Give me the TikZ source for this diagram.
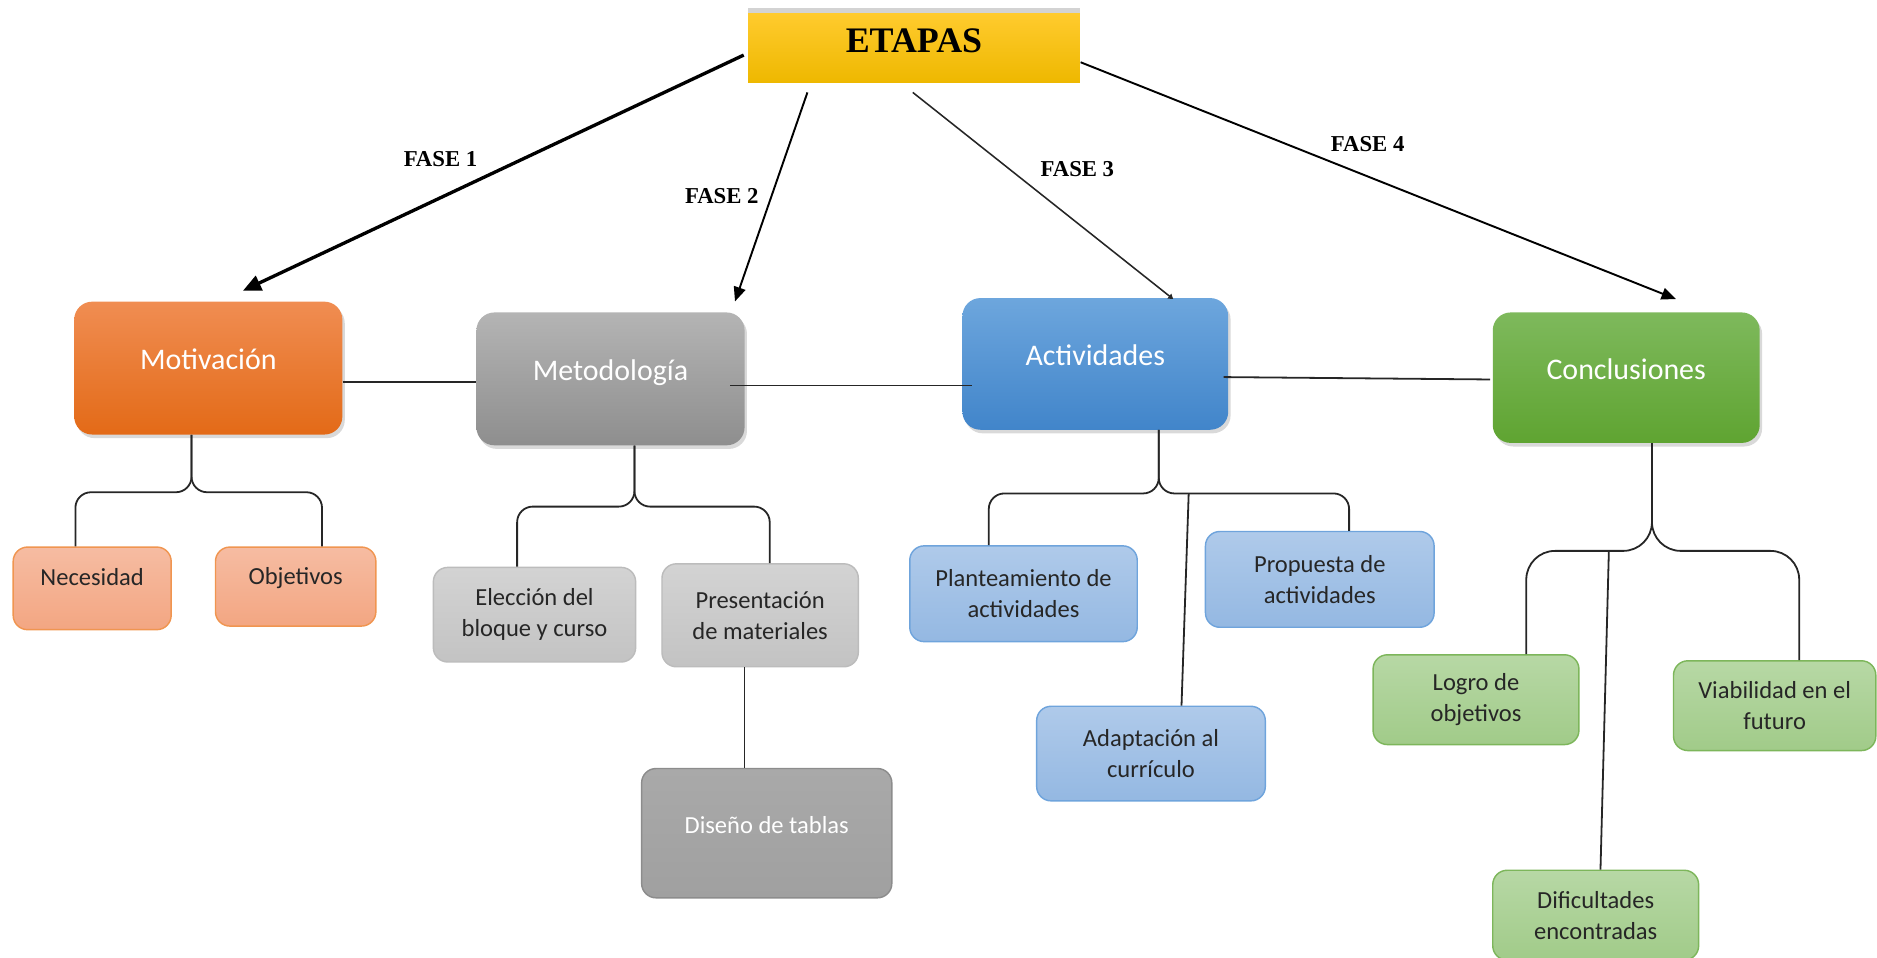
\documentclass[tikz,border=0pt]{standalone}
\usepackage{fontspec}
\setmainfont{Carlito}
\newfontfamily\titlefont{Liberation Serif}
\usetikzlibrary{arrows.meta,shadows,calc}

\definecolor{etaA}{HTML}{FFCB2E}
\definecolor{etaB}{HTML}{EEB800}
\definecolor{motA}{HTML}{F08D52}
\definecolor{motB}{HTML}{E36A17}
\definecolor{metA}{HTML}{B4B4B4}
\definecolor{metB}{HTML}{8E8E8E}
\definecolor{actA}{HTML}{6DA6DD}
\definecolor{actB}{HTML}{4185CA}
\definecolor{conA}{HTML}{7EB95C}
\definecolor{conB}{HTML}{5FA431}
\definecolor{oraA}{HTML}{F6BCA2}
\definecolor{oraB}{HTML}{F3A682}
\definecolor{oraC}{HTML}{F09550}
\definecolor{gryA}{HTML}{D3D3D3}
\definecolor{gryB}{HTML}{C3C3C3}
\definecolor{gryC}{HTML}{BCBCBC}
\definecolor{disA}{HTML}{A9A9A9}
\definecolor{disB}{HTML}{A0A0A0}
\definecolor{disC}{HTML}{8C8C8C}
\definecolor{bluA}{HTML}{AFCAEA}
\definecolor{bluB}{HTML}{94B8E2}
\definecolor{bluC}{HTML}{6FA4DC}
\definecolor{verA}{HTML}{B7D8A5}
\definecolor{verB}{HTML}{A1CB89}
\definecolor{verC}{HTML}{7DB65B}

\begin{document}
\begin{tikzpicture}[x=1pt,y=-1pt,
	etabox/.style={top color=etaA, bottom color=etaB, minimum width=277pt, minimum height=58pt, font=\titlefont\bfseries\fontsize{30}{30}\selectfont, text height=22pt, text depth=15pt, drop shadow={shadow xshift=0pt, shadow yshift=4pt, opacity=0.35}},
	main/.style={rounded corners=15pt, minimum width=224pt, minimum height=111pt, text=white, font=\fontsize{25}{30}\selectfont, text height=18pt, text depth=15pt, drop shadow={shadow xshift=2pt, shadow yshift=-3pt, opacity=0.3}},
	sub/.style={draw, line width=1.2pt, rounded corners=12pt, align=center, font=\fontsize{20.5}{26}\selectfont, text=black!85},
	subo/.style={sub, draw=oraC, top color=oraA, bottom color=oraB},
	subg/.style={sub, draw=gryC, top color=gryA, bottom color=gryB},
	subb/.style={sub, draw=bluC, top color=bluA, bottom color=bluB},
	subv/.style={sub, draw=verC, top color=verA, bottom color=verB},
	one/.style={text height=14pt, text depth=18pt},
	fase/.style={font=\titlefont\bfseries\fontsize{19}{19}\selectfont},
	link/.style={line width=1.5pt, draw=black!85},
	brace/.style={link, rounded corners=13pt},
	arr/.style={-{Triangle[length=12pt,width=10pt]}, line width=1.6pt}
	]
	\useasboundingbox (0,0) rectangle (1568,800);
	
	\node[etabox] (eta) at (763.5,40) {ETAPAS};
	
	\node[main, top color=motA, bottom color=motB] (mot) at (174,307.5) {Motivación};
	\node[main, top color=metA, bottom color=metB] (met) at (510,316.5) {Metodología};
	\node[main, top color=actA, bottom color=actB, minimum width=222pt, minimum height=110pt] (act) at (915,304) {Actividades};
	\node[main, top color=conA, bottom color=conB, minimum width=223pt, minimum height=109pt] (con) at (1358.5,315.5) {Conclusiones};
	
	\node[subo, one, minimum width=132pt, minimum height=69pt] (nec) at (77,491.5) {Necesidad};
	\node[subo, one, minimum width=134pt, minimum height=66pt] (obj) at (247,490) {Objetivos};
	
	\node[subg, minimum width=169pt, minimum height=79pt] (ele) at (446.5,513.5) {Elección del\\bloque y curso};
	\node[subg, minimum width=164pt, minimum height=86pt] (pre) at (635,514) {Presentación\\de materiales};
	\node[subg, draw=disC, top color=disA, bottom color=disB, text=white, text height=14pt, text depth=14pt, minimum width=209pt, minimum height=108pt] (dis) at (640.5,696) {Diseño de tablas};
	
	\node[subb, minimum width=190pt, minimum height=80pt] (pla) at (855,496) {Planteamiento de\\actividades};
	\node[subb, minimum width=191pt, minimum height=80pt] (pro) at (1102.5,484) {Propuesta de\\actividades};
	\node[subb, minimum width=191pt, minimum height=79pt] (ada) at (961.5,629.5) {Adaptación al\\currículo};
	
	\node[subv, minimum width=172pt, minimum height=75pt] (log) at (1233,584.5) {Logro de\\objetivos};
	\node[subv, minimum width=169pt, minimum height=75pt] (via) at (1482.5,589.5) {Viabilidad en el\\futuro};
	\node[subv, minimum width=172pt, minimum height=75pt] (dif) at (1333,764.5) {Dificultades\\encontradas};
	
	\node[fase] (f1) at (368,133) {FASE 1};
	\node[fase] (f2) at (603,164) {FASE 2};
	\node[fase] (f3) at (900,141.5) {FASE 3};
	\node[fase] (f4) at (1142.5,120.5) {FASE 4};
	
	% fases
	\draw[arr, line width=2.8pt, -{Triangle[length=15pt,width=13pt]}] ($(eta.west)+(-3.5,6)$) -- ($(mot.north)+(29,-9)$);
	\draw[arr] ($(eta.south)+(-89,8)$) -- ($(met.north)+(104,-9)$);
	\draw[link, line width=1.3pt, -{Triangle[length=4pt,width=5pt]}] ($(eta.south)+(-1,8)$) -- ($(act.north)+(65,1)$);
	\draw[arr] ($(eta.east)+(0.5,12)$) -- ($(con.north)+(41.5,-11)$);
	
	% enlaces
	\draw[link] ($(mot.east)+(0,11.5)$) -- ($(met.west)+(0,2.5)$);
	\draw[link] ($(met.east)+(-12,5.5)$) -- ($(act.west)+(8,18)$);
	\draw[link] ($(act.east)+(-4,11)$) -- ($(con.west)+(-2,1.5)$);
	
	\draw[brace] ($(nec.north)+(-14,0)$) |- ($(mot.south)+(-14,48)$) -- ($(mot.south)+(-14,0)$);
	\draw[brace] ($(obj.north)+(22,0)$) |- ($(mot.south)+(-14,48)$) -- ($(mot.south)+(-14,0)$);
	
	\draw[brace] ($(ele.north)+(-14.5,0)$) |- ($(met.south)+(20,51)$) -- ($(met.south)+(20,0)$);
	\draw[brace] ($(pre.north)+(8,0)$) |- ($(met.south)+(20,51)$) -- ($(met.south)+(20,0)$);
	\draw[link] ($(pre.south)+(-13,0)$) -- ($(dis.north)+(-18.5,0)$);
	
	\draw[brace] ($(pla.north)+(-29,0)$) |- ($(act.south)+(53,53)$) -- ($(act.south)+(53,0)$);
	\draw[brace] ($(pro.north)+(24.5,0)$) |- ($(act.south)+(53,53)$) -- ($(act.south)+(53,0)$);
	\draw[link] ($(act.south)+(78,53)$) -- ($(ada.north)+(25.5,0)$);
	
	\draw[brace, rounded corners=24pt] ($(log.north)+(42,0)$) |- ($(con.south)+(21.5,90)$) -- ($(con.south)+(21.5,0)$);
	\draw[brace, rounded corners=24pt] ($(via.north)+(20.5,0)$) |- ($(con.south)+(21.5,90)$) -- ($(con.south)+(21.5,0)$);
	\draw[link] ($(con.south)+(-14.5,90)$) -- ($(dif.north)+(4,0)$);
	
\end{tikzpicture}
\end{document}
